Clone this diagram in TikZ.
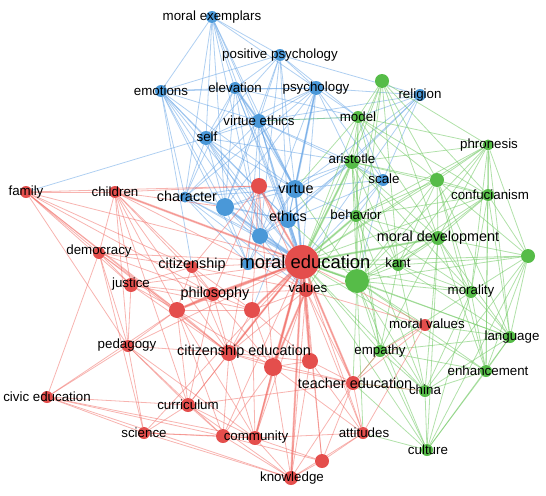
\documentclass[tikz,border=0pt]{standalone}
\usepackage{fontspec}
\setmainfont{Liberation Sans}
\usepackage{tikz}
\usepackage{xcolor}
\usetikzlibrary{backgrounds}

\definecolor{redn}{RGB}{228,78,76}
\definecolor{bluen}{RGB}{74,152,216}
\definecolor{greenn}{RGB}{86,188,72}
\definecolor{rede}{RGB}{240,105,98}
\definecolor{bluee}{RGB}{96,160,228}
\definecolor{greene}{RGB}{112,200,98}

\tikzset{
  rn/.style={circle,inner sep=0pt,fill=redn,minimum size=#1*1.5pt},
  bn/.style={circle,inner sep=0pt,fill=bluen,minimum size=#1*1.5pt},
  gn/.style={circle,inner sep=0pt,fill=greenn,minimum size=#1*1.5pt},
  redge/.style={draw=rede,draw opacity=0.5,line width=0.6pt},
  bedge/.style={draw=bluee,draw opacity=0.5,line width=0.6pt},
  gedge/.style={draw=greene,draw opacity=0.55,line width=0.6pt},
  thick link/.style={line width=1.6pt,draw opacity=0.45},
  lbl/.style={inner sep=0pt,font=\fontsize{10}{12}\selectfont},
  lblb/.style={inner sep=0pt,font=\fontsize{10.8}{13}\selectfont},
  lblh/.style={inner sep=0pt,font=\fontsize{13.8}{16}\selectfont}
}

\begin{document}
\begin{tikzpicture}[x=0.75pt,y=0.75pt,yscale=-1]
\path[use as bounding box] (0,0) rectangle (546,496);

%Shape: blue cluster
\node[bn=6] (mex) at (212,17) {};
\node[bn=6] (pps) at (280,55) {};
\node[bn=6] (emo) at (161,91) {};
\node[bn=6] (ele) at (235,88) {};
\node[bn=7] (psy) at (316,88) {};
\node[bn=6] (rel) at (420,95) {};
\node[bn=7] (vet) at (259,121) {};
\node[bn=7] (slf) at (206,138) {};
\node[bn=5.5] (chr) at (185,197) {};
\node[bn=9] (bb1) at (225,207) {};
\node[bn=9] (vir) at (295,189) {};
\node[bn=8] (eth) at (288,220) {};
\node[bn=8] (bb2) at (260,236) {};
\node[bn=6] (bb3) at (248,264) {};
\node[bn=6] (scl) at (383,180) {};

%Shape: green cluster
\node[gn=7] (g1) at (382,81) {};
\node[gn=6] (mdl) at (358,117) {};
\node[gn=7] (ari) at (352,162) {};
\node[gn=7] (g2) at (437,180) {};
\node[gn=5.5] (phr) at (488,145) {};
\node[gn=6] (con) at (488,195) {};
\node[gn=6] (beh) at (356,216) {};
\node[gn=7] (mdv) at (438,238) {};
\node[gn=7] (g3) at (528,256) {};
\node[gn=6] (kan) at (398,265) {};
\node[gn=12] (gbig) at (357,281) {};
\node[gn=6] (mty) at (471,292) {};
\node[gn=6] (lan) at (510,337) {};
\node[gn=6] (emp) at (380,351) {};
\node[gn=6] (enh) at (486,371) {};
\node[gn=6] (chn) at (425,391) {};
\node[gn=6] (cul) at (427,450) {};

%Shape: red cluster
\node[rn=6] (fam) at (26,192) {};
\node[rn=6] (chi) at (115,192) {};
\node[rn=8] (r1) at (259,186) {};
\node[rn=6] (dem) at (99,253) {};
\node[rn=6] (ctz) at (192,267) {};
\node[rn=17] (moe) at (302,262) {};
\node[rn=7] (val) at (306,290) {};
\node[rn=7] (jus) at (131,285) {};
\node[rn=7] (phi) at (213,294) {};
\node[rn=8] (r2) at (177,310) {};
\node[rn=8] (r3) at (252,310) {};
\node[rn=6] (ped) at (128,346) {};
\node[rn=8] (ced) at (229,353) {};
\node[rn=9] (r4) at (273,367) {};
\node[rn=8] (r5) at (310,361) {};
\node[rn=7] (tec) at (353,383) {};
\node[rn=6] (mov) at (425,325) {};
\node[rn=6] (civ) at (47,397) {};
\node[rn=7] (cur) at (188,405) {};
\node[rn=6] (sci) at (144,433) {};
\node[rn=7] (r6) at (223,436) {};
\node[rn=7] (com) at (255,438) {};
\node[rn=6] (att) at (363,433) {};
\node[rn=7] (r7) at (322,461) {};
\node[rn=7] (kno) at (291,478) {};

\begin{pgfonlayer}{background}
%Straight Lines: blue links
\foreach \a/\b in {mex/emo,mex/ele,mex/vet,mex/slf,mex/psy,mex/pps,mex/bb1,mex/vir,mex/eth,mex/bb2,mex/chr,
  pps/emo,pps/ele,pps/psy,pps/vet,pps/slf,pps/vir,pps/eth,pps/bb1,pps/rel,pps/mdl,pps/bb2,
  emo/ele,emo/vet,emo/slf,emo/chr,emo/bb1,emo/vir,emo/eth,emo/bb2,emo/bb3,emo/psy,emo/ctz,emo/moe,
  ele/vet,ele/slf,ele/psy,ele/vir,ele/eth,ele/bb1,ele/bb2,ele/chr,ele/moe,ele/mdl,
  psy/vet,psy/slf,psy/vir,psy/eth,psy/bb1,psy/bb2,psy/moe,psy/mdl,psy/ari,psy/scl,psy/rel,psy/chr,
  rel/vir,rel/eth,rel/mdl,rel/ari,rel/scl,rel/moe,rel/vet,
  vet/slf,vet/vir,vet/eth,vet/bb1,vet/bb2,vet/moe,vet/chr,vet/ari,vet/mdl,vet/scl,vet/bb3,vet/val,
  slf/chr,slf/bb1,slf/vir,slf/eth,slf/bb2,slf/moe,slf/fam,slf/ari,slf/val,
  chr/bb1,chr/vir,chr/eth,chr/bb2,chr/moe,chr/bb3,chr/r1,chr/val,
  bb1/vir,bb1/eth,bb1/bb2,bb1/moe,bb1/val,bb1/ari,bb1/bb3,
  vir/eth,vir/bb2,vir/moe,vir/ari,vir/scl,vir/beh,vir/val,vir/bb3,vir/r1,
  eth/bb2,eth/moe,eth/ari,eth/scl,eth/beh,eth/val,eth/r3,
  bb2/moe,bb2/val,bb2/bb3,bb2/ari,
  scl/moe,scl/ari,scl/beh,scl/mdl,scl/gbig}
  \draw[bedge] (\a) -- (\b);
\foreach \a/\b in {vir/moe,eth/moe,bb1/moe,bb2/moe,vet/vir,psy/vir,ele/vet}
  \draw[bedge,thick link] (\a) -- (\b);
%Straight Lines: green links
\foreach \a/\b in {g1/mdl,g1/ari,g1/beh,g1/moe,g1/gbig,g1/mdv,g1/con,g1/phr,g1/g2,g1/kan,
  mdl/ari,mdl/beh,mdl/gbig,mdl/moe,mdl/g2,mdl/phr,mdl/mdv,mdl/con,mdl/kan,mdl/vet,mdl/vir,
  ari/beh,ari/gbig,ari/moe,ari/g2,ari/phr,ari/con,ari/mdv,ari/kan,ari/mty,ari/val,ari/emp,
  g2/phr,g2/con,g2/mdv,g2/gbig,g2/moe,g2/kan,g2/beh,g2/g3,g2/mty,g2/lan,g2/enh,
  phr/con,phr/mdv,phr/gbig,phr/moe,phr/g3,phr/mty,phr/kan,phr/beh,phr/lan,phr/enh,
  con/mdv,con/gbig,con/moe,con/g3,con/mty,con/kan,con/lan,con/enh,con/beh,
  beh/gbig,beh/moe,beh/mdv,beh/kan,beh/emp,beh/mty,beh/val,beh/chn,
  mdv/gbig,mdv/moe,mdv/kan,mdv/g3,mdv/mty,mdv/lan,mdv/enh,mdv/emp,mdv/chn,mdv/cul,
  g3/gbig,g3/moe,g3/kan,g3/mty,g3/lan,g3/enh,g3/chn,g3/cul,
  kan/gbig,kan/moe,kan/mty,kan/lan,kan/emp,kan/chn,
  gbig/moe,gbig/val,gbig/mty,gbig/lan,gbig/enh,gbig/emp,gbig/chn,gbig/cul,gbig/tec,gbig/mov,gbig/att,gbig/eth,gbig/vir,
  mty/moe,mty/lan,mty/enh,mty/emp,mty/chn,mty/cul,
  lan/moe,lan/enh,lan/emp,lan/chn,lan/cul,lan/mov,
  emp/moe,emp/chn,emp/cul,emp/tec,emp/enh,
  enh/chn,enh/cul,enh/moe,chn/cul,chn/moe,chn/tec,cul/moe,cul/tec,cul/att}
  \draw[gedge] (\a) -- (\b);
\foreach \a/\b in {gbig/moe,ari/moe,mdv/moe,beh/moe}
  \draw[gedge,thick link] (\a) -- (\b);
%Straight Lines: red links
\foreach \a/\b in {fam/chi,fam/dem,fam/jus,fam/ctz,fam/r1,fam/moe,fam/phi,fam/r2,fam/ped,fam/ced,
  chi/r1,chi/ctz,chi/moe,chi/dem,chi/jus,chi/phi,chi/r2,chi/ped,chi/ced,chi/val,chi/cur,chi/bb1,
  r1/moe,r1/val,r1/ctz,r1/phi,r1/r3,r1/ced,r1/r4,
  dem/jus,dem/ctz,dem/phi,dem/r2,dem/moe,dem/ped,dem/civ,dem/sci,dem/ced,
  ctz/moe,ctz/phi,ctz/r2,ctz/r3,ctz/ced,ctz/jus,ctz/val,
  jus/phi,jus/r2,jus/moe,jus/ped,jus/ced,jus/r3,
  phi/moe,phi/r2,phi/r3,phi/ced,phi/val,phi/cur,phi/r4,
  r2/moe,r2/ced,r2/cur,r2/ped,r2/r3,r2/r4,r2/com,r2/r6,
  r3/moe,r3/ced,r3/r4,r3/val,r3/com,r3/r5,
  ped/civ,ped/ced,ped/cur,ped/sci,ped/moe,ped/com,ped/r6,
  civ/cur,civ/sci,civ/com,civ/kno,civ/r2,civ/r6,
  ced/moe,ced/r4,ced/cur,ced/com,ced/r6,ced/val,ced/tec,ced/r5,
  r4/moe,r4/val,r4/r5,r4/tec,r4/com,r4/r6,r4/kno,r4/att,
  r5/moe,r5/val,r5/tec,r5/kno,r5/att,
  moe/val,moe/tec,moe/mov,moe/att,moe/kno,moe/r7,moe/com,moe/cur,moe/r6,moe/sci,
  val/tec,val/mov,val/att,val/kno,val/r7,val/com,
  tec/mov,tec/att,tec/r7,tec/kno,tec/emp,tec/chn,mov/att,mov/emp,
  cur/com,cur/r6,cur/sci,cur/kno,cur/tec,sci/com,sci/r6,sci/kno,
  r6/com,r6/kno,r6/r7,com/kno,com/r7,com/att,kno/r7,kno/att,att/r7}
  \draw[redge] (\a) -- (\b);
\foreach \a/\b in {moe/val,moe/r4,moe/ced,moe/r3,moe/phi,moe/tec,moe/r5,moe/kno,moe/r2,moe/r1,moe/com,val/r4,r2/phi,chi/moe}
  \draw[redge,thick link] (\a) -- (\b);
\end{pgfonlayer}

% Text Node
\node[lbl] (t-mex) at (212,17) {moral exemplars};
\node[lbl] (t-pps) at (280,55) {positive psychology};
\node[lbl] (t-emo) at (161,91) {emotions};
\node[lbl] (t-ele) at (235,88) {elevation};
\node[lbl] (t-psy) at (316,88) {psychology};
\node[lbl] (t-rel) at (420,95) {religion};
\node[lbl] (t-vet) at (259,121) {virtue ethics};
\node[lbl] (t-slf) at (207,137) {self};
\node[lblb] (t-chr) at (187,196) {character};
\node[lblb] (t-vir) at (296,188) {virtue};
\node[lblb] (t-eth) at (288,216) {ethics};
\node[lbl] (t-scl) at (384,179) {scale};
\node[lbl] (t-mdl) at (358,117) {model};
\node[lbl] (t-ari) at (352,159) {aristotle};
\node[lbl] (t-phr) at (489,145) {phronesis};
\node[lbl] (t-con) at (490,195) {confucianism};
\node[lbl] (t-beh) at (356,215) {behavior};
\node[lblb] (t-mdv) at (438,238) {moral development};
\node[lbl] (t-kan) at (398,263) {kant};
\node[lbl] (t-mty) at (471,291) {morality};
\node[lbl] (t-mov) at (427,324) {moral values};
\node[lbl] (t-lan) at (512,337) {language};
\node[lbl] (t-emp) at (380,351) {empathy};
\node[lbl] (t-enh) at (488,371) {enhancement};
\node[lbl] (t-chn) at (425,390) {china};
\node[lbl] (t-cul) at (428,450) {culture};
\node[lbl] (t-att) at (364,433) {attitudes};
\node[lblb] (t-tec) at (355,383) {teacher education};
\node[lbl] (t-kno) at (292,478) {knowledge};
\node[lblh] (t-moe) at (305,262) {moral education};
\node[lbl] (t-val) at (308,288) {values};
\node[lbl] (t-fam) at (26,192) {family};
\node[lbl] (t-chi) at (115,192) {children};
\node[lbl] (t-dem) at (99,251) {democracy};
\node[lblb] (t-ctz) at (192,265) {citizenship};
\node[lbl] (t-jus) at (131,284) {justice};
\node[lblb] (t-phi) at (215,294) {philosophy};
\node[lbl] (t-ped) at (127,345) {pedagogy};
\node[lblb] (t-ced) at (244,352) {citizenship education};
\node[lbl] (t-civ) at (47,397) {civic education};
\node[lbl] (t-cur) at (188,405) {curriculum};
\node[lbl] (t-sci) at (144,433) {science};
\node[lbl] (t-com) at (256,437) {community};

\end{tikzpicture}
\end{document}
